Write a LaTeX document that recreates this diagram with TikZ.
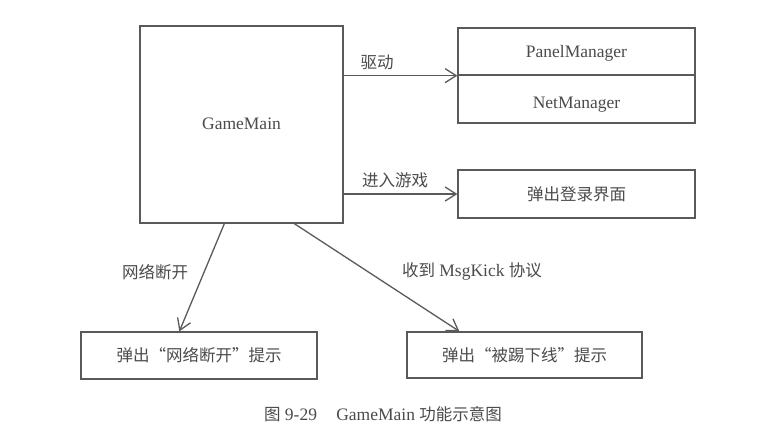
\documentclass[tikz,border=0pt]{standalone}
\usepackage{fontspec}
\setmainfont{Liberation Serif}
\newfontfamily\cjk{Noto Sans CJK SC}
\newcommand{\zh}[1]{{\cjk\fontsize{16.5}{20}\selectfont #1}}
\newcommand{\lowtxt}[2]{\raisebox{-#1}[0pt][0pt]{#2}}
\usetikzlibrary{arrows.meta}
\definecolor{linec}{RGB}{90,90,90}
\definecolor{textc}{RGB}{75,75,75}
\tikzset{
  boxstyle/.style={draw=linec, line width=1.3pt, inner sep=0pt, text=textc, font=\fontsize{17.5}{20}\selectfont},
  arr/.style={draw=linec, line width=1.3pt, -{Straight Barb[length=11pt,width=14pt,line width=1.3pt]}},
  lbl/.style={text=textc, inner sep=0pt, font=\fontsize{17.5}{20}\selectfont}
}
\begin{document}
\begin{tikzpicture}[x=1pt,y=-1pt]
\useasboundingbox[fill=white] (0,0) rectangle (765,439);
% boxes
\node[boxstyle, minimum width=203pt, minimum height=197pt] (gm) at (241.5,124.5) {\lowtxt{4.5pt}{GameMain}};
\node[boxstyle, minimum width=237pt, minimum height=47pt] (pm) at (576.5,51.5) {\lowtxt{6pt}{PanelManager}};
\node[boxstyle, minimum width=237pt, minimum height=48pt] (nm) at (576.5,99) {\lowtxt{9.5pt}{NetManager}};
\node[boxstyle, minimum width=237pt, minimum height=48pt] (login) at (576.5,194) {\zh{弹出登录界面}};
\node[boxstyle, minimum width=236pt, minimum height=47pt] (lbox) at (199,355.5) {\zh{弹出“网络断开”提示}};
\node[boxstyle, minimum width=235pt, minimum height=46pt] (rbox) at (524.5,355) {\zh{弹出“被踢下线”提示}};
% connectors
\draw[arr] (gm.east |- pm.south west) -- (pm.south west);
\draw[arr] (gm.east |- login.west) -- (login.west);
\draw[arr] ([xshift=85pt]gm.south west) -- ([xshift=99pt]lbox.north west);
\draw[arr] ([xshift=155pt]gm.south west) -- ([xshift=53pt]rbox.north west);
% labels
\node[lbl] (l1) at (377,62) {\zh{驱动}};
\node[lbl] (l2) at (395,180) {\zh{进入游戏}};
\node[lbl] (l3) at (155,272) {\zh{网络断开}};
\node[lbl] (l4) at (472,271) {\zh{收到} MsgKick \zh{协议}};
\node[lbl] (cap) at (383,414) {\zh{图} 9-29\hspace{1.1em}GameMain \zh{功能示意图}};
\end{tikzpicture}
\end{document}
